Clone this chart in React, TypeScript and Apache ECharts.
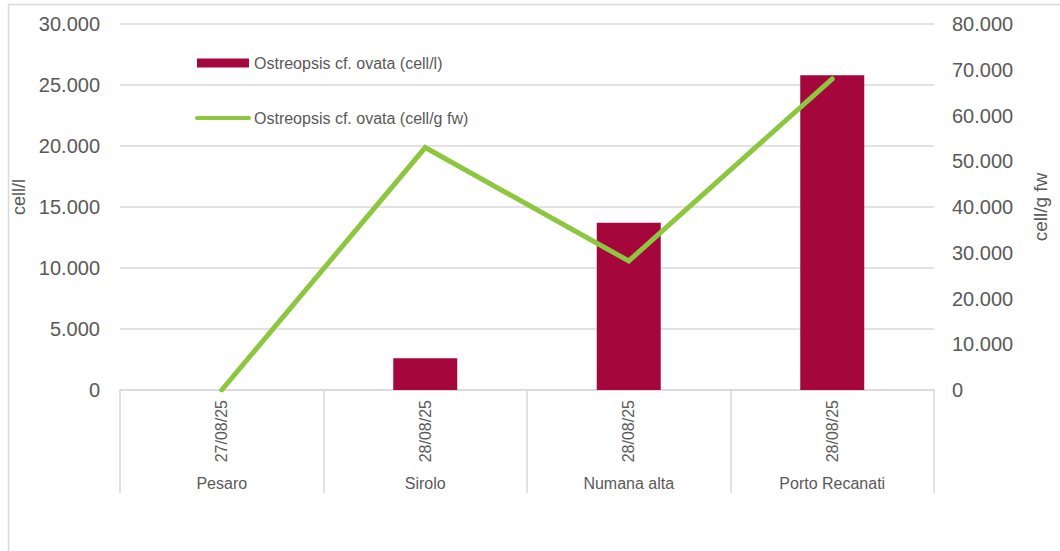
import React, { useEffect, useRef } from "react";
import * as echarts from "echarts";

const dates = ["27/08/25", "28/08/25", "28/08/25", "28/08/25"];
const sites = ["Pesaro", "Sirolo", "Numana alta", "Porto Recanati"];
const cellPerL = [0, 2600, 13700, 25800];
const cellPerGfw = [0, 53000, 28200, 68000];
const leftTicks = { min: 0, max: 30000, interval: 5000 };
const rightTicks = { min: 0, max: 80000, interval: 10000 };
const barName = "Ostreopsis cf. ovata (cell/l)";
const lineName = "Ostreopsis cf. ovata (cell/g fw)";

const FONT = "Liberation Sans, Arial, sans-serif";
const GREY = "#595959";
const GRID = "#d9d9d9";

const fmt = (v: number) => String(v).replace(/\B(?=(\d{3})+(?!\d))/g, ".");

export default function App() {
  const ref = useRef<HTMLDivElement>(null);
  useEffect(() => {
    if (!ref.current) return;
    const chart = echarts.init(ref.current, null, { renderer: "svg" });
    chart.setOption({
      animation: false,
      textStyle: { fontFamily: FONT },
      graphic: [
        {
          type: "rect",
          shape: { x: 8.5, y: 4.5, width: 1200, height: 700 },
          style: { fill: "none", stroke: GRID, lineWidth: 1.5 },
          silent: true,
        },
      ],
      legend: {
        orient: "vertical",
        left: 190,
        top: 50,
        itemWidth: 52,
        itemHeight: 9,
        itemGap: 39,
        textStyle: { color: GREY, fontSize: 16, fontFamily: FONT, lineHeight: 16 },
        lineStyle: { width: 4, cap: "round" },
        data: [
          { name: barName, icon: "rect" },
          { name: lineName, itemStyle: { opacity: 0 } },
        ],
      },
      grid: { left: 120, right: 126, top: 24, bottom: 161, containLabel: false },
      xAxis: [
        {
          type: "category",
          data: dates,
          boundaryGap: true,
          axisLine: { lineStyle: { color: GRID, width: 1.5 } },
          axisTick: { show: true, length: 103, lineStyle: { color: GRID, width: 1.5 } },
          axisLabel: { rotate: 90, color: GREY, fontSize: 16, margin: 10, fontFamily: FONT },
        },
        {
          type: "category",
          data: sites,
          position: "bottom",
          boundaryGap: true,
          axisLine: { show: false },
          axisTick: { show: false },
          axisLabel: { color: GREY, fontSize: 16, margin: 85, fontFamily: FONT },
        },
      ],
      yAxis: [
        {
          type: "value",
          ...leftTicks,
          name: "cell/l",
          nameLocation: "middle",
          nameGap: 84,
          nameTextStyle: { color: GREY, fontSize: 18, fontFamily: FONT, padding: [0, 0, 0, 20] },
          axisLine: { show: false },
          axisTick: { show: false },
          axisLabel: { color: GREY, fontSize: 20, margin: 20, formatter: fmt, fontFamily: FONT },
          splitLine: { lineStyle: { color: GRID, width: 1.5 } },
        },
        {
          type: "value",
          ...rightTicks,
          name: "cell/g fw",
          nameLocation: "middle",
          nameGap: 97,
          nameTextStyle: { color: GREY, fontSize: 19, fontFamily: FONT },
          axisLine: { show: false },
          axisTick: { show: false },
          axisLabel: { color: GREY, fontSize: 20, margin: 18, formatter: fmt, fontFamily: FONT },
          splitLine: { show: false },
        },
      ],
      series: [
        {
          name: barName,
          type: "bar",
          xAxisIndex: 0,
          yAxisIndex: 0,
          data: cellPerL,
          barWidth: 64,
          itemStyle: { color: "#a5073d" },
        },
        {
          name: lineName,
          type: "line",
          xAxisIndex: 0,
          yAxisIndex: 1,
          data: cellPerGfw,
          showSymbol: false,
          symbol: "none",
          lineStyle: { color: "#8dc63f", width: 5, cap: "round", join: "miter" },
          itemStyle: { color: "#8dc63f" },
        },
      ],
    });
    return () => chart.dispose();
  }, []);
  return (
    <div
      ref={ref}
      style={{ position: "fixed", left: 0, top: 0, width: 1060, height: 551, background: "#fff" }}
    />
  );
}
